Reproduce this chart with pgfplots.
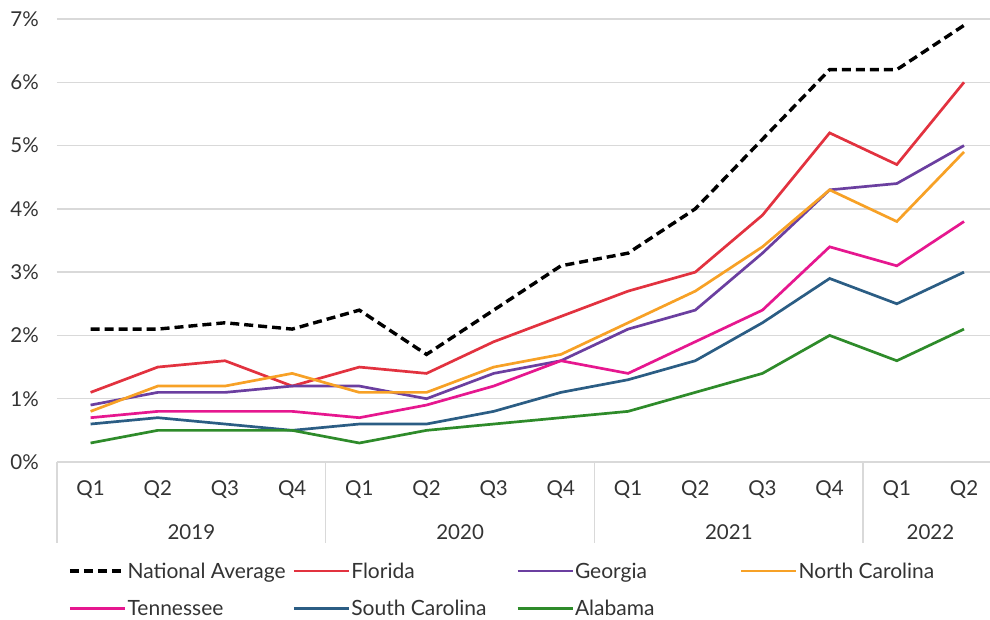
\documentclass[border=0pt]{standalone}
\usepackage{pgfplots}
\pgfplotsset{compat=1.18}
\usepackage{pgfplotstable}
\usepackage{fontspec}
\setmainfont{Lato}

\definecolor{txt}{HTML}{333333}
\definecolor{gridc}{HTML}{D9D9D9}
\definecolor{flc}{HTML}{E2323F}
\definecolor{gac}{HTML}{6B3FA0}
\definecolor{ncc}{HTML}{F7A126}
\definecolor{tnc}{HTML}{E6178F}
\definecolor{scc}{HTML}{2B5D84}
\definecolor{alc}{HTML}{2E8B2A}

% quarterly rates, Q1 2019 .. Q2 2022
\pgfplotstableread{
q  natl fl  ga  nc  tn  sc  al
0  2.1  1.1 0.9 0.8 0.7 0.6 0.3
1  2.1  1.5 1.1 1.2 0.8 0.7 0.5
2  2.2  1.6 1.1 1.2 0.8 0.6 0.5
3  2.1  1.2 1.2 1.4 0.8 0.5 0.5
4  2.4  1.5 1.2 1.1 0.7 0.6 0.3
5  1.7  1.4 1.0 1.1 0.9 0.6 0.5
6  2.4  1.9 1.4 1.5 1.2 0.8 0.6
7  3.1  2.3 1.6 1.7 1.6 1.1 0.7
8  3.3  2.7 2.1 2.2 1.4 1.3 0.8
9  4.0  3.0 2.4 2.7 1.9 1.6 1.1
10 5.1  3.9 3.3 3.4 2.4 2.2 1.4
11 6.2  5.2 4.3 4.3 3.4 2.9 2.0
12 6.2  4.7 4.4 3.8 3.1 2.5 1.6
13 6.9  6.0 5.0 4.9 3.8 3.0 2.1
}\rates

\newcommand{\lent}[1]{\strut\hspace{1bp}\makebox[165bp][l]{#1}}

\begin{document}
\fontsize{20.5bp}{24.6bp}\selectfont
\begin{tikzpicture}
\useasboundingbox (-57bp,-158bp) rectangle (933bp,462bp);
\begin{axis}[
  at={(0,0)}, anchor=south west,
  scale only axis, width=940.6bp, height=443bp,
  xmin=-0.5, xmax=13.5, ymin=0, ymax=7,
  clip=false,
  axis line style={draw=none},
  major tick length=0pt,
  ymajorgrids, grid style={gridc, line width=1.5bp},
  ytick={0,1,...,7},
  yticklabels={0\%,1\%,2\%,3\%,4\%,5\%,6\%,7\%},
  yticklabel style={anchor=east, inner sep=0pt, xshift=-18bp, text=txt},
  xtick={0,...,13},
  xticklabels={Q1,Q2,Q3,Q4,Q1,Q2,Q3,Q4,Q1,Q2,Q3,Q4,Q1,Q2},
  xticklabel style={anchor=center, inner sep=0pt, yshift=-28bp, text=txt},
  font=\fontsize{20.5bp}{24.6bp}\selectfont,
  every axis plot/.append style={line width=2.7bp, no markers},
  legend image code/.code={\draw[#1] (0bp,0bp) -- (55bp,0bp);},
  legend columns=4,
  legend cell align=left,
  legend style={at={(axis description cs:0.0117,-0.2221)}, anchor=north west,
    draw=none, fill=none, inner sep=0pt, text=txt,
    font=\fontsize{21bp}{25.2bp}\selectfont,
    nodes={inner sep=0pt}, row sep=16.8bp, column sep=0pt},
]
\addplot[black, line width=3.4bp, dash pattern=on 9bp off 5bp] table[x=q, y=natl] {\rates};
\addlegendentry{\lent{National Average}}
\addplot[flc] table[x=q, y=fl] {\rates};
\addlegendentry{\lent{Florida}}
\addplot[gac] table[x=q, y=ga] {\rates};
\addlegendentry{\lent{Georgia}}
\addplot[ncc] table[x=q, y=nc] {\rates};
\addlegendentry{\lent{North Carolina}}
\addplot[tnc] table[x=q, y=tn] {\rates};
\addlegendentry{\lent{Tennessee}}
\addplot[scc] table[x=q, y=sc] {\rates};
\addlegendentry{\lent{South Carolina}}
\addplot[alc] table[x=q, y=al] {\rates};
\addlegendentry{\lent{Alabama}}

% year groups under the quarter labels
\pgfplotsinvokeforeach{-0.5,3.5,7.5,11.5}{
  \draw[gridc, line width=1.5bp] (axis cs:#1,0) -- ([yshift=-81bp]axis cs:#1,0);
}
\node[text=txt] at ([yshift=-70bp]axis cs:1.5,0) {2019};
\node[text=txt] at ([yshift=-70bp]axis cs:5.5,0) {2020};
\node[text=txt] at ([yshift=-70bp]axis cs:9.5,0) {2021};
\node[text=txt] at ([yshift=-70bp]axis cs:12.5,0) {2022};
\end{axis}
\end{tikzpicture}
\end{document}
